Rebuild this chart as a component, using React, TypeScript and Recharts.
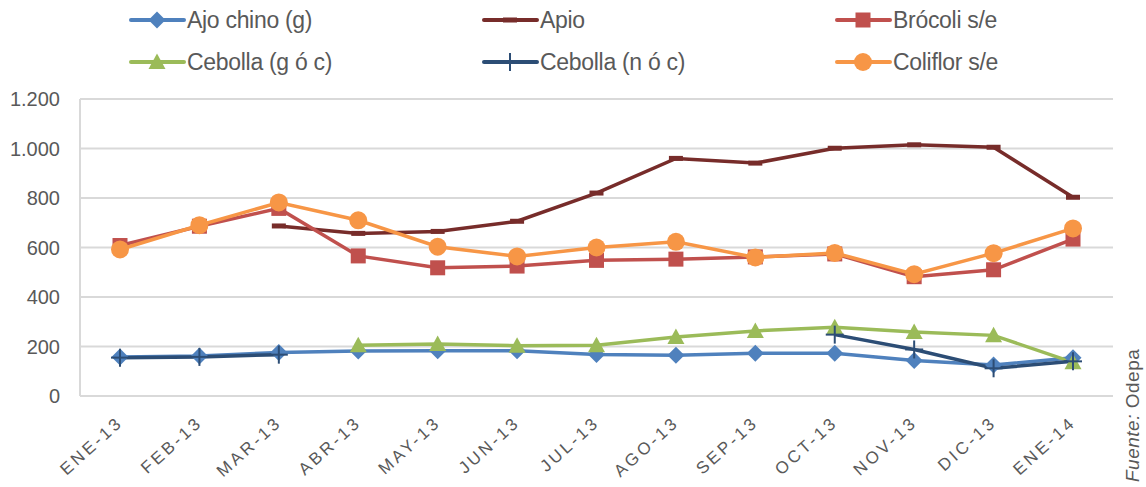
import React from "react";
import {
  LineChart,
  Line,
  XAxis,
  YAxis,
  CartesianGrid,
} from "recharts";

const months = [
  "ENE-13", "FEB-13", "MAR-13", "ABR-13", "MAY-13", "JUN-13", "JUL-13",
  "AGO-13", "SEP-13", "OCT-13", "NOV-13", "DIC-13", "ENE-14",
];

const ajoChino = [158, 162, 176, 182, 183, 183, 168, 165, 173, 173, 143, 125, 155];
const apio = [null, null, 687, 657, 665, 706, 820, 960, 941, 1001, 1015, 1005, 803];
const brocoli = [608, 686, 758, 566, 518, 525, 548, 553, 562, 574, 482, 510, 634];
const cebollaG = [null, null, null, 205, 210, 203, 205, 238, 263, 278, 259, 245, 136];
const cebollaN = [155, 158, 167, null, null, null, null, null, null, 248, 188, 112, 140];
const coliflor = [592, 690, 782, 710, 603, 564, 600, 623, 560, 578, 492, 577, 677];

const yTicks = [0, 200, 400, 600, 800, 1000, 1200];

const data = months.map((m, i) => ({
  month: m,
  ajo: ajoChino[i],
  apio: apio[i],
  brocoli: brocoli[i],
  cebollaG: cebollaG[i],
  cebollaN: cebollaN[i],
  coliflor: coliflor[i],
}));

const series = [
  { key: "ajo", name: "Ajo chino (g)", color: "#4F81BD", marker: "diamond" },
  { key: "apio", name: "Apio", color: "#772C2A", marker: "dash" },
  { key: "brocoli", name: "Brócoli s/e", color: "#C0504D", marker: "square" },
  { key: "cebollaG", name: "Cebolla (g ó c)", color: "#9BBB59", marker: "triangle" },
  { key: "cebollaN", name: "Cebolla (n ó c)", color: "#2C4D75", marker: "plus" },
  { key: "coliflor", name: "Coliflor s/e", color: "#F79646", marker: "circle" },
];

const textColor = "#595959";
const font = "'Liberation Sans', Arial, sans-serif";

function Marker({ type, cx, cy, color }: { type: string; cx: number; cy: number; color: string }) {
  switch (type) {
    case "diamond":
      return <path d={`M${cx},${cy - 8.5} L${cx + 8.5},${cy} L${cx},${cy + 8.5} L${cx - 8.5},${cy} Z`} fill={color} />;
    case "dash":
      return <rect x={cx - 7} y={cy - 2.5} width={14} height={5} fill={color} />;
    case "square":
      return <rect x={cx - 7.5} y={cy - 7.5} width={15} height={15} fill={color} />;
    case "triangle":
      return <path d={`M${cx},${cy - 8.5} L${cx + 8.5},${cy + 7} L${cx - 8.5},${cy + 7} Z`} fill={color} />;
    case "plus":
      return (
        <g stroke={color} strokeWidth={2}>
          <line x1={cx} y1={cy - 9} x2={cx} y2={cy + 9} />
          <line x1={cx - 9} y1={cy} x2={cx + 9} y2={cy} />
        </g>
      );
    case "circle":
      return <circle cx={cx} cy={cy} r={9} fill={color} />;
    default:
      return null;
  }
}

function makeDot(type: string, color: string) {
  return (props: any) => {
    const { cx, cy, value, index } = props;
    if (value == null || cx == null || cy == null) return <g key={`e-${index}`} />;
    return (
      <g key={`d-${index}`}>
        <Marker type={type} cx={cx} cy={cy} color={color} />
      </g>
    );
  };
}

function LegendBlock() {
  return (
    <div style={{ position: "absolute", left: 0, top: 0, width: 1146, height: 85, fontFamily: font }}>
      {series.map((s, i) => {
        const col = i % 3;
        const row = Math.floor(i / 3);
        const left = 128 + col * 353;
        const top = row * 42;
        return (
          <div
            key={s.key}
            style={{ position: "absolute", left, top, height: 40, display: "flex", alignItems: "center" }}
          >
            <svg width={58} height={40}>
              <line x1={3} y1={20} x2={56} y2={20} stroke={s.color} strokeWidth={4} strokeLinecap="round" />
              <Marker type={s.marker} cx={29} cy={20} color={s.color} />
            </svg>
            <span style={{ fontSize: 23, color: textColor, marginLeft: 1, letterSpacing: -0.3 }}>{s.name}</span>
          </div>
        );
      })}
    </div>
  );
}

function XTick(props: any) {
  const { x, y, payload } = props;
  return (
    <g transform={`translate(${x + 4},${y + 20})`}>
      <text
        transform="rotate(-42)"
        textAnchor="end"
        fill={textColor}
        fontSize={17}
        fontFamily={font}
        letterSpacing={3}
      >
        {payload.value}
      </text>
    </g>
  );
}

const fmt = (v: number) => v.toLocaleString("de-DE");

export default function App() {
  return (
    <div style={{ position: "absolute", left: 0, top: 0, width: 1146, height: 487, background: "#fff" }}>
      <LegendBlock />
      <LineChart
        width={1146}
        height={487}
        data={data}
        margin={{ top: 99, right: 33, left: 20, bottom: 0 }}
      >
        <CartesianGrid vertical={false} stroke="#D9D9D9" strokeWidth={2} />
        <XAxis
          dataKey="month"
          height={91}
          interval={0}
          padding={{ left: 40, right: 40 }}
          tick={<XTick />}
          tickLine={false}
          axisLine={{ stroke: "#D9D9D9", strokeWidth: 2 }}
        />
        <YAxis
          domain={[0, 1200]}
          ticks={yTicks}
          width={60}
          tickFormatter={fmt}
          tickLine={false}
          tickMargin={14}
          axisLine={{ stroke: "#D9D9D9", strokeWidth: 2 }}
          tick={{ fill: textColor, fontSize: 20, fontFamily: font }}
        />
        {series.map((s) => (
          <Line
            key={s.key}
            type="linear"
            dataKey={s.key}
            name={s.name}
            stroke={s.color}
            strokeWidth={3.5}
            dot={makeDot(s.marker, s.color)}
            activeDot={false}
            connectNulls={false}
            isAnimationActive={false}
          />
        ))}
      </LineChart>
      <div
        style={{
          position: "absolute",
          left: 1122,
          top: 482,
          transform: "rotate(-90deg)",
          transformOrigin: "0 0",
          whiteSpace: "nowrap",
          fontFamily: font,
          fontSize: 19,
          color: textColor,
          letterSpacing: 0.5,
          lineHeight: "22px",
        }}
      >
        <i>Fuente:</i> Odepa
      </div>
    </div>
  );
}
